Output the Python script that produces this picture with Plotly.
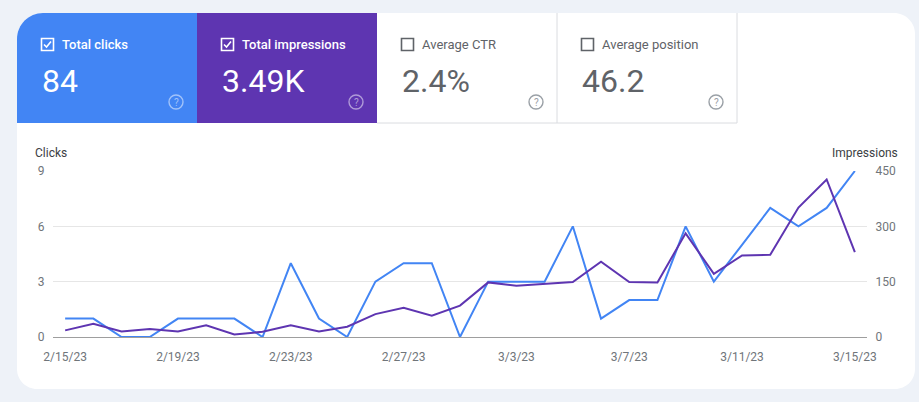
import plotly.graph_objects as go

dates = ["2023-02-15", "2023-02-16", "2023-02-17", "2023-02-18", "2023-02-19", "2023-02-20",
         "2023-02-21", "2023-02-22", "2023-02-23", "2023-02-24", "2023-02-25", "2023-02-26",
         "2023-02-27", "2023-02-28", "2023-03-01", "2023-03-02", "2023-03-03", "2023-03-04",
         "2023-03-05", "2023-03-06", "2023-03-07", "2023-03-08", "2023-03-09", "2023-03-10",
         "2023-03-11", "2023-03-12", "2023-03-13", "2023-03-14", "2023-03-15"]
clicks = [1, 1, 0, 0, 1, 1, 1, 0, 4, 1, 0, 3, 4, 4, 0, 3, 3, 3, 6, 1, 2, 2, 6, 3, 5, 7, 6, 7, 9]
impressions = [18, 36, 15, 22, 15, 32, 7, 14, 32, 15, 28, 62, 79, 58, 85, 148, 139, 145, 149, 204,
               149, 148, 281, 171, 221, 223, 351, 427, 230]

card_labels = ["Total clicks", "Total impressions", "Average CTR", "Average position"]
card_values = ["84", "3.49K", "2.4%", "46.2"]

W, H = 919, 402
BLUE = "#4285f4"
PURPLE = "#5e35b1"
BG = "#eef2f8"
GREY_TXT = "#5f6368"
TICK_TXT = "#70757a"


def px(x):
    return x / W


def py(y):
    return 1 - y / H


def rounded_path(x0, y0, x1, y1, r_tl, r_tr, r_br, r_bl):
    k = 0.5523
    def P(x, y):
        return f"{px(x):.6f},{py(y):.6f}"
    s = f"M {P(x0 + r_tl, y0)} L {P(x1 - r_tr, y0)} "
    if r_tr:
        s += f"C {P(x1 - r_tr + k * r_tr, y0)} {P(x1, y0 + r_tr - k * r_tr)} {P(x1, y0 + r_tr)} "
    s += f"L {P(x1, y1 - r_br)} "
    if r_br:
        s += f"C {P(x1, y1 - r_br + k * r_br)} {P(x1 - r_br + k * r_br, y1)} {P(x1 - r_br, y1)} "
    s += f"L {P(x0 + r_bl, y1)} "
    if r_bl:
        s += f"C {P(x0 + r_bl - k * r_bl, y1)} {P(x0, y1 - r_bl + k * r_bl)} {P(x0, y1 - r_bl)} "
    s += f"L {P(x0, y0 + r_tl)} "
    if r_tl:
        s += f"C {P(x0, y0 + r_tl - k * r_tl)} {P(x0 + r_tl - k * r_tl, y0)} {P(x0 + r_tl, y0)} "
    s += "Z"
    return s


fig = go.Figure()
fig.add_trace(go.Scatter(x=dates, y=impressions, mode="lines", name="Impressions",
                         line=dict(color=PURPLE, width=2), yaxis="y2"))
fig.add_trace(go.Scatter(x=dates, y=clicks, mode="lines", name="Clicks",
                         line=dict(color=BLUE, width=2), yaxis="y"))

shapes = []
annotations = []

# main white card
shapes.append(dict(type="path", xref="paper", yref="paper", layer="below",
                   path=rounded_path(17, 13, 915, 389, 26, 21, 20, 20),
                   fillcolor="white", line=dict(width=0)))
# metric cards
card_x = [17, 197, 377, 557]
card_fill = [BLUE, PURPLE, "white", "white"]
for i in range(4):
    x0 = card_x[i]
    x1 = x0 + 180
    if i == 0:
        shapes.append(dict(type="path", xref="paper", yref="paper", layer="below",
                           path=rounded_path(x0, 13, x1, 123, 26, 0, 0, 0),
                           fillcolor=card_fill[i], line=dict(width=0)))
    else:
        shapes.append(dict(type="rect", xref="paper", yref="paper", layer="below",
                           x0=px(x0), x1=px(x1), y0=py(123), y1=py(13),
                           fillcolor=card_fill[i], line=dict(width=0)))
    checked = i < 2
    col = "white" if checked else GREY_TXT
    # checkbox
    cx0 = x0 + 24
    shapes.append(dict(type="rect", xref="paper", yref="paper",
                       x0=px(cx0 + 0.5), x1=px(cx0 + 12.5), y0=py(50.5), y1=py(38.5),
                       line=dict(color=col, width=1.6), fillcolor="rgba(0,0,0,0)"))
    if checked:
        shapes.append(dict(type="path", xref="paper", yref="paper",
                           path=f"M {px(cx0 + 3):.6f},{py(44.5):.6f} L {px(cx0 + 5.5):.6f},{py(47):.6f} L {px(cx0 + 10):.6f},{py(41.5):.6f}",
                           line=dict(color="white", width=1.6)))
    annotations.append(dict(x=px(cx0 + 19), y=py(44.5), xref="paper", yref="paper",
                            text=card_labels[i], showarrow=False, xanchor="left", yanchor="middle",
                            font=dict(family="Roboto", size=13, color=col,
                                      weight=500 if checked else 400)))
    annotations.append(dict(x=px(cx0 - 1), y=py(81), xref="paper", yref="paper",
                            text=card_values[i], showarrow=False, xanchor="left", yanchor="middle",
                            font=dict(family="Roboto", size=32, color="white" if checked else GREY_TXT)))
    # help icon
    hx, hy = x0 + 159, 102
    hcol = "rgba(255,255,255,0.5)" if checked else "#9aa0a6"
    shapes.append(dict(type="circle", xref="paper", yref="paper",
                       x0=px(hx - 7), x1=px(hx + 7), y0=py(hy + 7), y1=py(hy - 7),
                       line=dict(color=hcol, width=1.4), fillcolor="rgba(0,0,0,0)"))
    annotations.append(dict(x=px(hx), y=py(hy), xref="paper", yref="paper", text="?",
                            showarrow=False, xanchor="center", yanchor="middle",
                            font=dict(family="Roboto", size=10, color=hcol)))

# borders for white cards
shapes.append(dict(type="line", xref="paper", yref="paper", x0=px(377), x1=px(737),
                   y0=py(123), y1=py(123), line=dict(color="#dadce0", width=1)))
shapes.append(dict(type="line", xref="paper", yref="paper", x0=px(557), x1=px(557),
                   y0=py(123), y1=py(13), line=dict(color="#dadce0", width=1)))
shapes.append(dict(type="line", xref="paper", yref="paper", x0=px(737), x1=px(737),
                   y0=py(123), y1=py(13), line=dict(color="#dadce0", width=1)))

annotations.append(dict(x=px(33), y=py(153), xref="paper", yref="paper", text="Clicks",
                        showarrow=False, xanchor="left", yanchor="middle",
                        font=dict(family="Roboto", size=12, color="#3c4043")))
annotations.append(dict(x=px(900), y=py(153), xref="paper", yref="paper", text="Impressions",
                        showarrow=False, xanchor="right", yanchor="middle",
                        font=dict(family="Roboto", size=12, color="#3c4043")))

fig.update_layout(
    width=W, height=H, margin=dict(l=0, r=0, t=0, b=0, pad=0, autoexpand=False),
    paper_bgcolor=BG, plot_bgcolor="rgba(0,0,0,0)",
    showlegend=False, shapes=shapes, annotations=annotations,
    font=dict(family="Roboto", size=12, color=TICK_TXT),
    xaxis=dict(domain=[px(53), px(867)], type="date",
               range=["2023-02-14 13:40", "2023-03-15 10:20"],
               tick0="2023-02-15", dtick=4 * 86400000, tickformat="%-m/%-d/%y",
               showgrid=False, zeroline=False, showline=False, automargin=False,
               ticks="outside", ticklen=9, tickcolor="rgba(0,0,0,0)",
               tickfont=dict(family="Roboto", size=12, color=TICK_TXT)),
    yaxis=dict(domain=[py(337), py(171)], range=[0, 9], dtick=3,
               gridcolor="#e6e6e6", gridwidth=1, automargin=False,
               zeroline=True, zerolinecolor="#9e9e9e", zerolinewidth=1,
               showline=False, ticks="outside", ticklen=5, tickcolor="rgba(0,0,0,0)",
               tickfont=dict(family="Roboto", size=12, color=TICK_TXT)),
    yaxis2=dict(overlaying="y", side="right", range=[0, 450], dtick=150,
                showgrid=False, zeroline=False, showline=False, automargin=False,
                ticks="outside", ticklen=5, tickcolor="rgba(0,0,0,0)",
                tickfont=dict(family="Roboto", size=12, color=TICK_TXT)),
)

fig.write_html("out.html", config={"displayModeBar": False},
               post_script="document.body.style.margin='0';")
